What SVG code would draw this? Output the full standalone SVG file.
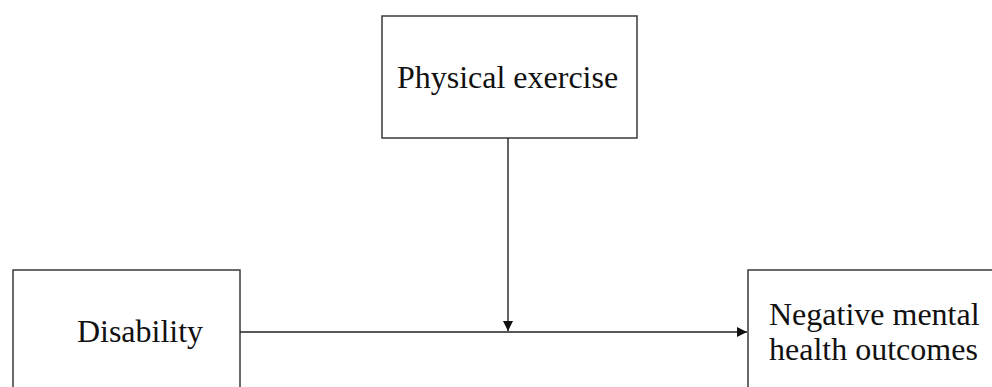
<svg xmlns="http://www.w3.org/2000/svg" width="992" height="387" viewBox="0 0 992 387">
<style>
.box{fill:#fff;stroke:#3a3a3a;stroke-width:1.5}
.lbl{font-family:"Liberation Serif","Times New Roman",serif;font-size:32px;fill:#111}
.conn{stroke:#222;stroke-width:1.4;fill:none}
</style>
<defs>
<marker id="arr" viewBox="0 0 10 10" refX="10" refY="5" markerWidth="10" markerHeight="10" markerUnits="userSpaceOnUse" orient="auto">
<path d="M0,0 L10,5 L0,10 z" fill="#111"/>
</marker>
</defs>
<rect width="992" height="387" fill="#fff"/>
<g id="physical-exercise">
<rect class="box" x="382" y="16" width="255" height="122"/>
<text class="lbl" x="507.5" y="88" text-anchor="middle">Physical exercise</text>
</g>
<g id="disability">
<rect class="box" x="13" y="270" width="227" height="130"/>
<text class="lbl" x="140" y="342" text-anchor="middle">Disability</text>
</g>
<g id="negative-mental-health-outcomes">
<rect class="box" x="748" y="270" width="260" height="130"/>
<text class="lbl" x="769" y="325">Negative mental</text>
<text class="lbl" x="769" y="360">health outcomes</text>
</g>
<g id="connectors">
<line class="conn" x1="240" y1="332" x2="747" y2="332" marker-end="url(#arr)"/>
<line class="conn" x1="508" y1="138" x2="508" y2="331" marker-end="url(#arr)"/>
</g>
</svg>
